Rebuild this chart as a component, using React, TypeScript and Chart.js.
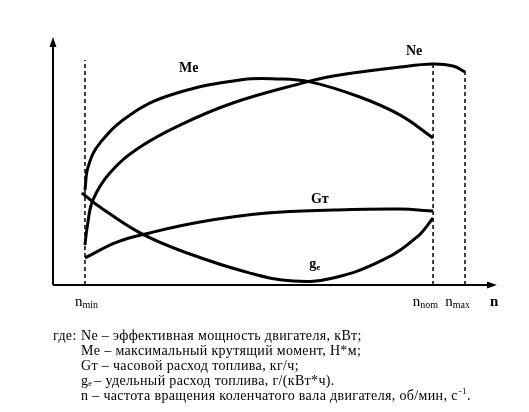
import React, { useEffect, useRef } from "react";
import { Chart, registerables } from "chart.js";

Chart.register(...registerables);

// n axis (arbitrary units, 0..100) and curve values (arbitrary units, 0..100)
const meN = [7.2, 7.9, 10.6, 18.0, 27.9, 42.1, 50.5, 57.9, 69.1, 78.2, 85.6];
const meV = [38.3, 47.6, 57.3, 69.4, 77.4, 82.7, 83.1, 81.9, 75.8, 68.5, 59.3];

const neN = [7.2, 7.7, 9.0, 12.8, 19.6, 28.6, 40.5, 57.2, 63.1, 78.2, 85.6, 90.1, 92.8];
const neV = [16.1, 23.4, 34.3, 45.2, 55.6, 64.5, 73.4, 81.9, 84.3, 87.9, 89.1, 88.3, 85.9];

const gtN = [7.2, 14.4, 21.8, 33.1, 48.2, 63.1, 78.2, 85.6];
const gtV = [10.9, 17.3, 21.0, 25.4, 29.0, 30.2, 30.6, 29.8];

const geN = [6.5, 9.9, 19.6, 30.2, 44.4, 54.1, 63.1, 74.3, 82.0, 85.6];
const geV = [37.1, 32.3, 21.0, 12.9, 4.8, 1.6, 2.8, 10.1, 19.4, 27.0];

// marker speeds: n_min, n_nom, n_max and the top of their dashed lines
const markerN = [7.2, 85.6, 92.8];
const markerTop = [90.7, 89.9, 86.7];
const markerSub = ["min", "nom", "max"];

// curve labels
const curveLabels = ["Me", "Ne", "Gт", "g"];
const curveLabelN = [28.4, 79.5, 58.1, 57.7];
const curveLabelV = [85.9, 92.7, 33.1, 6.9];

const legendLines = [
  "Ne – эффективная мощность двигателя, кВт;",
  "Me – максимальный крутящий момент, Н*м;",
  "Gт – часовой расход топлива, кг/ч;",
  "– удельный расход топлива, г/(кВт*ч).",
  "n – частота вращения коленчатого вала двигателя, об/мин, с",
];

const pts = (xs: number[], ys: number[]) => xs.map((x, i) => ({ x, y: ys[i] }));

export default function App() {
  const ref = useRef<HTMLCanvasElement | null>(null);

  useEffect(() => {
    document.body.style.margin = "0";
    const canvas = ref.current;
    if (!canvas) return;

    const curve = (label: string, data: { x: number; y: number }[]) => ({
      label,
      data,
      borderColor: "#000",
      borderWidth: 3,
      pointRadius: 0,
      tension: 0.4,
      fill: false,
    });

    const dashed = markerN.map((n, i) => ({
      label: "marker" + i,
      data: [
        { x: n, y: 0 },
        { x: n, y: markerTop[i] },
      ],
      borderColor: "#000",
      borderWidth: 1.5,
      borderDash: [4, 3],
      pointRadius: 0,
      tension: 0,
      fill: false,
    }));

    const overlay = {
      id: "overlay",
      afterDraw(chart: any) {
        const ctx = chart.ctx as CanvasRenderingContext2D;
        const xs = chart.scales.x;
        const ys = chart.scales.y;
        const { left, right, top, bottom } = chart.chartArea;
        ctx.save();
        ctx.strokeStyle = "#000";
        ctx.fillStyle = "#000";
        ctx.lineWidth = 2;
        // axes
        ctx.beginPath();
        ctx.moveTo(left, bottom);
        ctx.lineTo(left, top + 6);
        ctx.moveTo(left, bottom);
        ctx.lineTo(right - 6, bottom);
        ctx.stroke();
        // arrowheads
        ctx.beginPath();
        ctx.moveTo(left, top);
        ctx.lineTo(left - 3.5, top + 10);
        ctx.lineTo(left + 3.5, top + 10);
        ctx.closePath();
        ctx.fill();
        ctx.beginPath();
        ctx.moveTo(right, bottom);
        ctx.lineTo(right - 10, bottom - 3.5);
        ctx.lineTo(right - 10, bottom + 3.5);
        ctx.closePath();
        ctx.fill();

        // curve labels
        ctx.textBaseline = "alphabetic";
        ctx.textAlign = "left";
        curveLabels.forEach((t, i) => {
          const px = xs.getPixelForValue(curveLabelN[i]);
          const py = ys.getPixelForValue(curveLabelV[i]);
          ctx.font = "bold 14px 'Liberation Serif', serif";
          ctx.fillText(t, px, py);
          if (t === "g") {
            const w = ctx.measureText(t).width;
            ctx.font = "bold 9px 'Liberation Serif', serif";
            ctx.fillText("e", px + w, py + 2);
          }
        });

        // n labels
        const base = bottom + 21;
        markerN.forEach((n, i) => {
          const px = xs.getPixelForValue(n);
          ctx.font = "15px 'Liberation Serif', serif";
          const w = ctx.measureText("n").width;
          ctx.font = "10px 'Liberation Serif', serif";
          const ws = ctx.measureText(markerSub[i]).width;
          const start = i === 0 ? px - 10 : px - (w + ws) + 5;
          ctx.font = "15px 'Liberation Serif', serif";
          ctx.fillText("n", start, base);
          ctx.font = "10px 'Liberation Serif', serif";
          ctx.fillText(markerSub[i], start + w, base + 2);
        });
        ctx.font = "bold 15px 'Liberation Serif', serif";
        ctx.fillText("n", right - 7, base);

        // legend text
        const F = "14px 'Liberation Serif', serif";
        ctx.font = F;
        (ctx as any).letterSpacing = "0.35px";
        const lx0 = 53;
        const lx1 = 81;
        let y = 340;
        const step = 15;
        ctx.fillText("где:", lx0, y);
        ctx.fillText(legendLines[0], lx1, y);
        y += step;
        ctx.fillText(legendLines[1], lx1, y);
        y += step;
        ctx.fillText(legendLines[2], lx1, y);
        y += step;
        // g_e line
        ctx.fillText("g", lx1, y);
        let w = ctx.measureText("g").width;
        ctx.font = "8px 'Liberation Serif', serif";
        ctx.fillText("e", lx1 + w, y + 1);
        w += ctx.measureText("e").width + 2;
        ctx.font = F;
        ctx.fillText(legendLines[3], lx1 + w, y);
        y += step;
        ctx.fillText(legendLines[4], lx1, y);
        const w2 = ctx.measureText(legendLines[4]).width;
        ctx.font = "9px 'Liberation Serif', serif";
        ctx.fillText("-1", lx1 + w2 + 1, y - 6);
        const w3 = ctx.measureText("-1").width;
        ctx.font = F;
        ctx.fillText(".", lx1 + w2 + w3 + 1, y);
        ctx.restore();
      },
    };

    const chart = new Chart(canvas, {
      type: "line",
      data: {
        datasets: [
          curve("Me", pts(meN, meV)),
          curve("Ne", pts(neN, neV)),
          curve("Gт", pts(gtN, gtV)),
          curve("ge", pts(geN, geV)),
          ...dashed,
        ] as any,
      },
      options: {
        animation: false,
        responsive: false,
        parsing: false as any,
        layout: { padding: { left: 53, top: 37, right: 32, bottom: 127 } },
        plugins: { legend: { display: false }, tooltip: { enabled: false }, title: { display: false } },
        scales: {
          x: { type: "linear", min: 0, max: 100, display: false },
          y: { type: "linear", min: 0, max: 100, display: false },
        },
      },
      plugins: [overlay],
    });
    return () => chart.destroy();
  }, []);

  return (
    <div style={{ position: "absolute", left: 0, top: 0, width: 529, height: 412, background: "#fff" }}>
      <canvas ref={ref} width={529} height={412} style={{ width: 529, height: 412 }} />
    </div>
  );
}
